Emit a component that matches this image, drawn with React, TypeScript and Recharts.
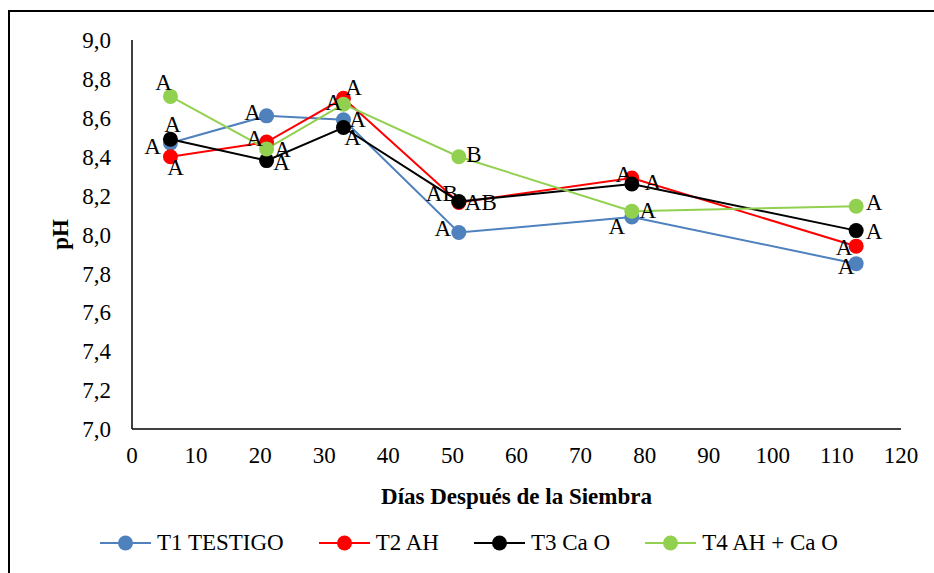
import React from 'react';
import { LineChart, Line, XAxis, YAxis, LabelList } from 'recharts';

// días después de la siembra
const days = [6, 21, 33, 51, 78, 113];

const t1Testigo = [8.47, 8.61, 8.59, 8.01, 8.09, 7.85];
const t2Ah = [8.40, 8.475, 8.70, 8.165, 8.29, 7.94];
const t3CaO = [8.49, 8.38, 8.55, 8.17, 8.26, 8.02];
const t4AhCaO = [8.71, 8.44, 8.67, 8.40, 8.12, 8.145];

// letras de significancia
const t1Letters = ['A', 'A', 'A', 'A', 'A', 'A'];
const t2Letters = ['A', 'A', 'A', 'AB', 'A', 'A'];
const t3Letters = ['A', 'A', 'A', 'AB', 'A', 'A'];
const t4Letters = ['A', 'A', 'A', 'B', 'A', 'A'];

const xTicks = [0, 10, 20, 30, 40, 50, 60, 70, 80, 90, 100, 110, 120];
const yTicks = [7.0, 7.2, 7.4, 7.6, 7.8, 8.0, 8.2, 8.4, 8.6, 8.8, 9.0];

const data = days.map((d, i) => ({
  dia: d,
  t1: t1Testigo[i],
  t2: t2Ah[i],
  t3: t3CaO[i],
  t4: t4AhCaO[i],
}));

const FONT = '"Liberation Serif", "Times New Roman", serif';

const series = [
  { key: 't1', name: 'T1 TESTIGO', color: '#4F81BD', letters: t1Letters },
  { key: 't2', name: 'T2 AH', color: '#FF0000', letters: t2Letters },
  { key: 't3', name: 'T3 Ca O', color: '#000000', letters: t3Letters },
  { key: 't4', name: 'T4 AH + Ca O', color: '#92D050', letters: t4Letters },
];

// label offsets from the marker centre, per series / point
const labelShift: Record<string, [number, number][]> = {
  t1: [[-18, 3], [-14, -3], [14, 0], [-16, -4], [-15, 10], [-10, 3]],
  t2: [[5, 11], [-12, -4], [10, -11], [-17, -9], [-8, -4], [-12, 1]],
  t3: [[2, -15], [15, 2], [9, 10], [22, 1], [21, -1], [18, 1]],
  t4: [[-7, -14], [16, 1], [-10, -2], [15, -2], [16, -1], [18, -4]],
};

const fmt = (v: number) => v.toFixed(1).replace('.', ',');

const makeLabel = (key: string, letters: string[]) => (props: any) => {
  const { x, y, index } = props;
  const [dx, dy] = labelShift[key][index];
  return (
    <text
      x={x + dx}
      y={y + dy}
      textAnchor="middle"
      dominantBaseline="central"
      fontFamily={FONT}
      fontSize={23}
      fill="#000"
    >
      {letters[index]}
    </text>
  );
};

const PhLabel = (props: any) => {
  const vb = props.viewBox || { x: 0, y: 40, width: 132, height: 389 };
  const cx = vb.x + vb.width / 2 - 6;
  const cy = vb.y + vb.height / 2;
  return (
    <text
      x={cx}
      y={cy}
      transform={`rotate(-90 ${cx} ${cy})`}
      textAnchor="middle"
      dominantBaseline="central"
      fontFamily={FONT}
      fontSize={23}
      fontWeight="bold"
      fill="#000"
    >
      pH
    </text>
  );
};

const LegendRow = () => (
  <div
    style={{
      position: 'absolute',
      left: 100,
      top: 529,
      display: 'flex',
      alignItems: 'center',
      gap: 35,
      fontFamily: FONT,
      fontSize: 23,
      color: '#000',
      lineHeight: '28px',
    }}
  >
    {series.map((s) => (
      <div key={s.key} style={{ display: 'flex', alignItems: 'center' }}>
        <svg width={51} height={20} style={{ marginRight: 6 }}>
          <line x1={0} y1={10} x2={51} y2={10} stroke={s.color} strokeWidth={2} />
          <circle cx={25.5} cy={10} r={7.5} fill={s.color} />
        </svg>
        <span>{s.name}</span>
      </div>
    ))}
  </div>
);

export default function App() {
  return (
    <div
      style={{
        position: 'absolute',
        left: 0,
        top: 0,
        width: 934,
        height: 573,
        overflow: 'hidden',
        background: '#fff',
      }}
    >
      <div
        style={{
          position: 'absolute',
          left: 8,
          top: 10,
          width: 1000,
          height: 1000,
          border: '2px solid #000',
        }}
      />
      <div style={{ position: 'absolute', left: 0, top: 0 }}>
        <LineChart
          width={934}
          height={573}
          data={data}
          margin={{ top: 40, right: 33, bottom: 64, left: 0 }}
        >
          <XAxis
            dataKey="dia"
            type="number"
            domain={[0, 120]}
            ticks={xTicks}
            interval={0}
            height={80}
            tickLine={false}
            tickSize={0}
            tickMargin={18}
            axisLine={{ stroke: '#000', strokeWidth: 1.5 }}
            tick={{ fill: '#000', fontSize: 23, fontFamily: FONT }}
            label={{
              value: 'Días Después de la Siembra',
              position: 'insideBottom',
              offset: 5,
              style: { fill: '#000', fontSize: 23, fontWeight: 'bold', fontFamily: FONT },
            }}
          />
          <YAxis
            type="number"
            domain={[7, 9]}
            ticks={yTicks}
            interval={0}
            width={132}
            tickLine={false}
            tickSize={0}
            tickMargin={21}
            tickFormatter={fmt}
            axisLine={{ stroke: '#000', strokeWidth: 1.5 }}
            tick={{ fill: '#000', fontSize: 23, fontFamily: FONT }}
            label={<PhLabel />}
          />
          {series.map((s) => (
            <Line
              key={s.key}
              dataKey={s.key}
              name={s.name}
              stroke={s.color}
              strokeWidth={2}
              dot={{ r: 7.5, fill: s.color, stroke: s.color, strokeWidth: 0 }}
              activeDot={false}
              isAnimationActive={false}
            >
              <LabelList dataKey={s.key} content={makeLabel(s.key, s.letters)} />
            </Line>
          ))}
        </LineChart>
      </div>
      <LegendRow />
    </div>
  );
}
